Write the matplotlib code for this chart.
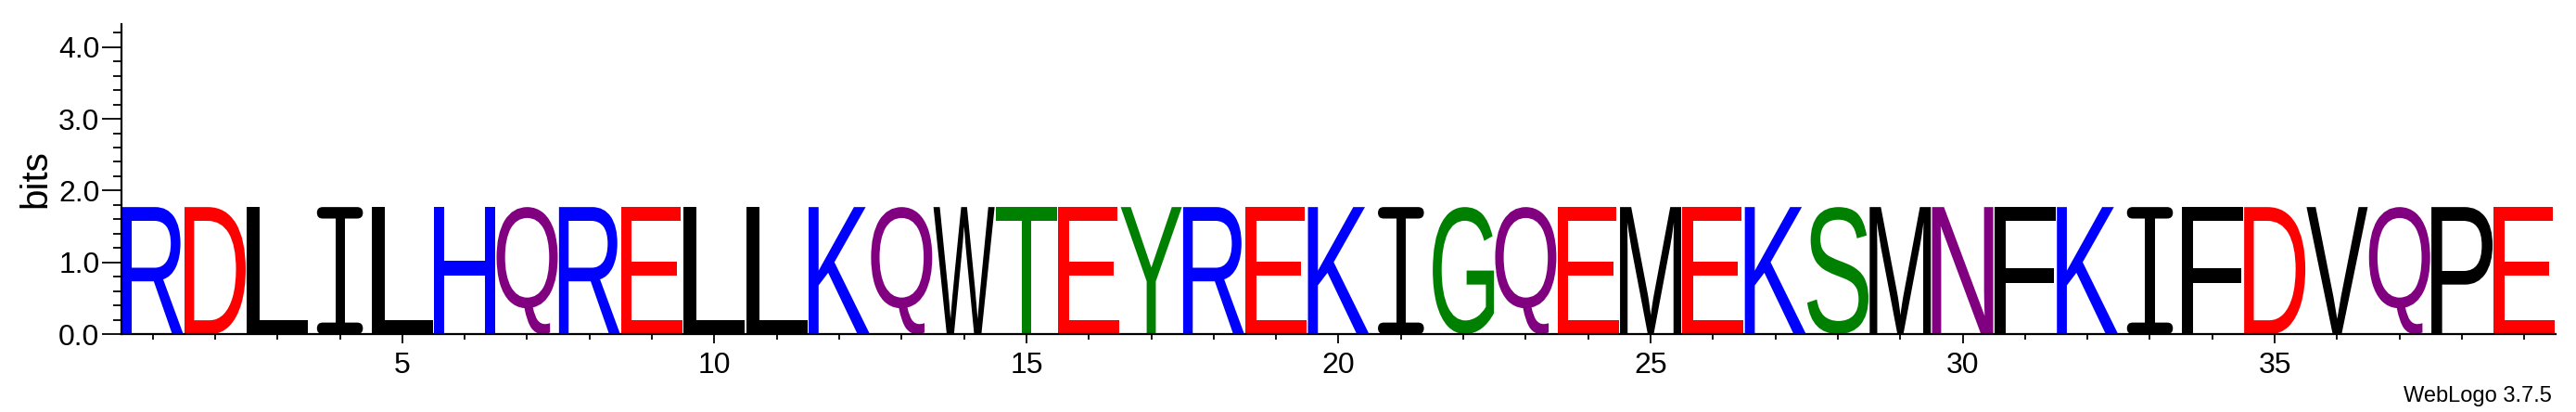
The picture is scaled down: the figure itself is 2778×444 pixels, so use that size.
import matplotlib
matplotlib.use("Agg")
import matplotlib.pyplot as plt
from matplotlib.textpath import TextPath
from matplotlib.font_manager import FontProperties
from matplotlib.patches import PathPatch, FancyBboxPatch, Rectangle
from matplotlib.transforms import Affine2D
from matplotlib.ticker import MultipleLocator, FormatStrFormatter

# sequence shown in the logo, one letter per position
letters = list("RDLILHQRELLKQWTEYREKIGQEMEKSMNFKIFDVQPE")
# stack height (bits) per position
heights = [1.77] * 39
positions = list(range(1, len(letters) + 1))

colours = {
    "blue": "KRH",
    "red": "DE",
    "black": "LIMFWVPAC",
    "green": "TYSG",
    "purple": "QN",
}
colour_of = {c: col for col, chars in colours.items() for c in chars}

plt.rcParams['font.family'] = ['Liberation Sans', 'DejaVu Sans']

fp = FontProperties(family="Liberation Sans")

# pixels per data unit, used to keep the I serif ends round
ASPECT = 67.3 / 77.3


def draw_I(ax, x, y, h, color, w=0.92):
    bar = 0.16 * h / 1.77
    stem = 0.15
    ax.add_patch(Rectangle((x - stem / 2, y + bar / 2), stem, h - bar,
                           fc=color, ec="none"))
    r = bar / ASPECT / 2
    for yb in (y, y + h - bar):
        ax.add_patch(FancyBboxPatch((x - w / 2 + r, yb), w - 2 * r, bar,
                                    boxstyle=f"round,pad=0,rounding_size={r}",
                                    mutation_aspect=ASPECT,
                                    fc=color, ec="none"))


def draw_letter(ax, ch, x, y, h, color, w=0.98):
    if ch == "I":
        draw_I(ax, x, y, h, color)
        return
    tp = TextPath((0, 0), ch, size=1, prop=fp)
    bb = tp.get_extents()
    t = (Affine2D().translate(-bb.x0, -bb.y0)
         .scale(w / bb.width, h / bb.height)
         .translate(x - w / 2, y))
    ax.add_patch(PathPatch(t.transform_path(tp), fc=color, ec="none"))


fig = plt.figure(figsize=(27.78, 4.44), dpi=100)
ax = fig.add_axes([131 / 2778, 84 / 444, (2756 - 131) / 2778, (360 - 26) / 444])

for ch, x, h in zip(letters, positions, heights):
    draw_letter(ax, ch, x, 0, h, colour_of[ch])

ax.set_xlim(0.5, 39.5)
ax.set_ylim(0, 4.32)

for s in ["top", "right"]:
    ax.spines[s].set_visible(False)
for s in ["left", "bottom"]:
    ax.spines[s].set_linewidth(1.6)

ax.yaxis.set_major_locator(MultipleLocator(1.0))
ax.yaxis.set_minor_locator(MultipleLocator(0.2))
ax.yaxis.set_major_formatter(FormatStrFormatter("%.1f"))
ax.xaxis.set_major_locator(MultipleLocator(5))
ax.xaxis.set_minor_locator(MultipleLocator(1))

ax.tick_params(axis="y", which="major", length=15, width=1.3, labelsize=23, pad=2)
ax.tick_params(axis="y", which="minor", length=6.5, width=1.3)
ax.tick_params(axis="x", which="major", length=7, width=1.3, labelsize=23, pad=7)
ax.tick_params(axis="x", which="minor", length=4.3, width=1.3)

ax.set_ylabel("bits", fontsize=29, labelpad=4)

fig.text(0.9906, 0.038, "WebLogo 3.7.5", ha="right", va="center", fontsize=17)

fig.savefig("out.png", dpi=100)
